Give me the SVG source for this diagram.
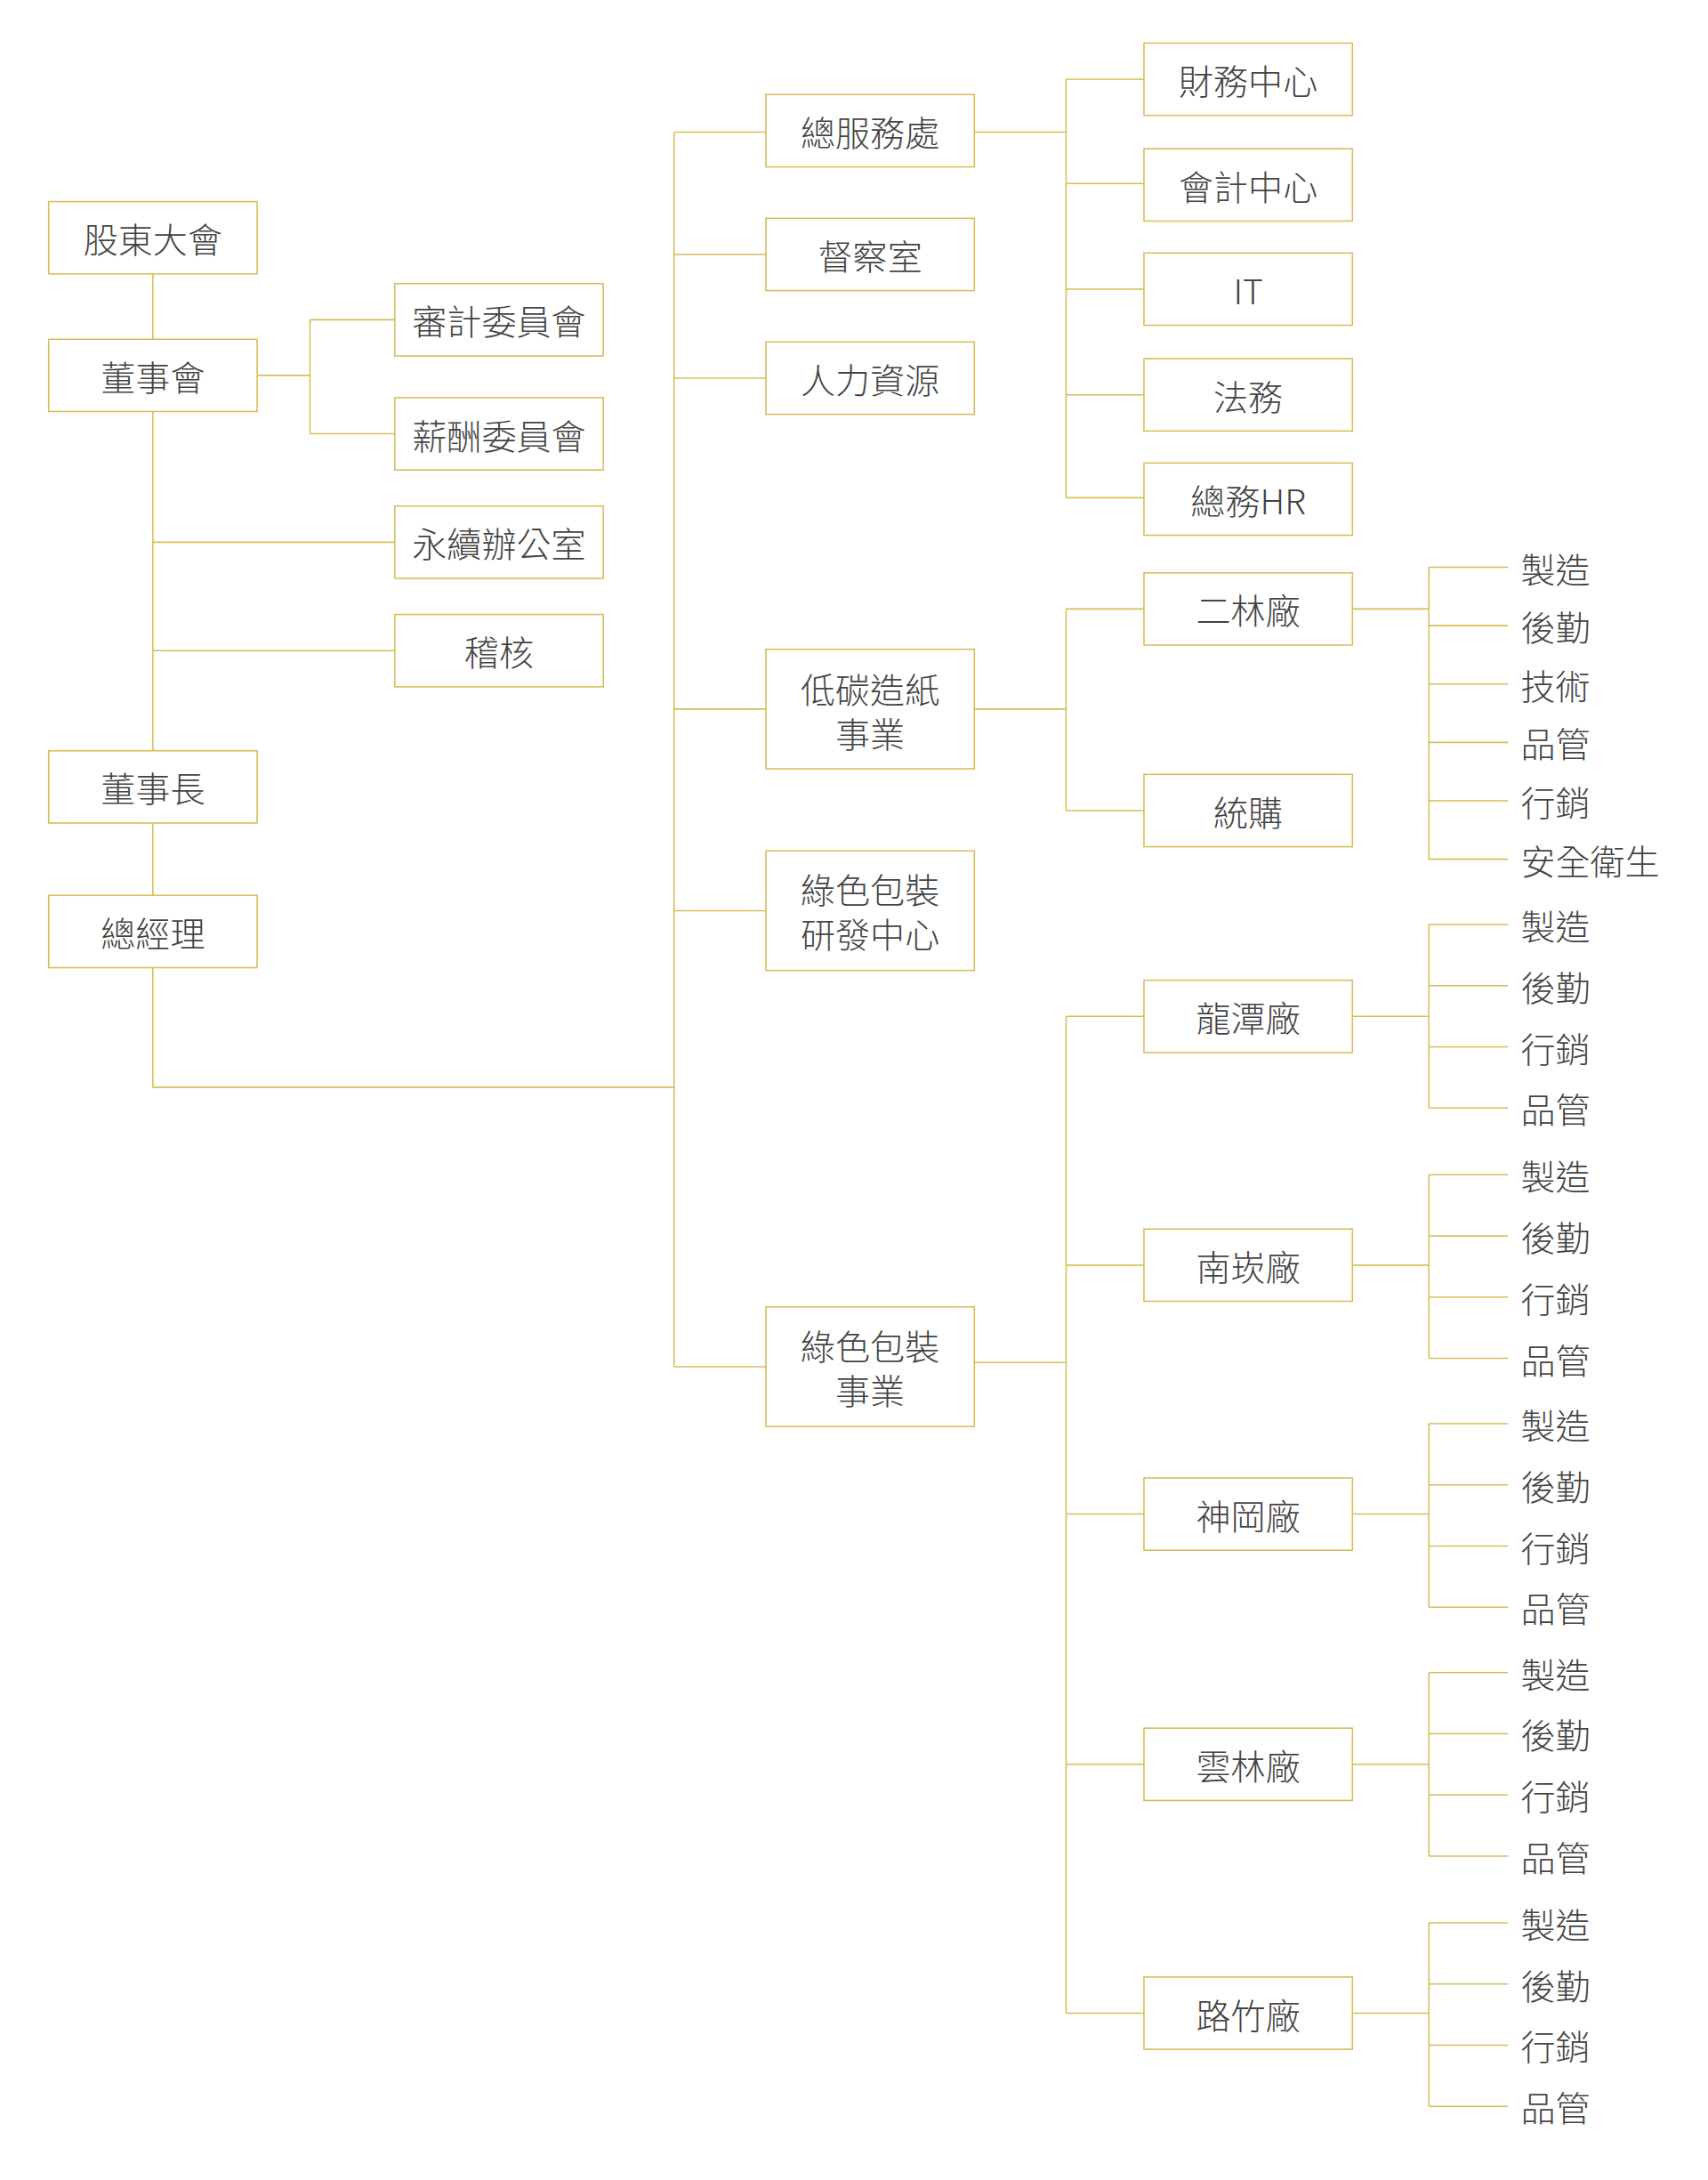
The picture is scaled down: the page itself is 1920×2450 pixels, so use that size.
<svg xmlns="http://www.w3.org/2000/svg" width="1920" height="2450" viewBox="0 0 1920 2450">
<style>
.b rect{fill:#fff;stroke:#d6bd5a;stroke-width:1}
text{font-family:"Noto Sans CJK TC","Noto Sans CJK SC",sans-serif;font-size:25px;fill:#444;text-anchor:middle;dominant-baseline:central;font-weight:300}
.l text{text-anchor:start}
#c path{fill:none;stroke:#d6bd5a;stroke-width:1}
</style>
<rect width="1920" height="2450" fill="#fff"/>
<g transform="scale(1.5625)">
<g id="c">
<path d="M110 197V244M110 296V540M110 592V644M110 696V782H485M110 390H284M110 468H284M185 270H223M223 230V312M223 230H284M223 312H284"/>
<path d="M485 95V983M485 95H551M485 183H551M485 272H551M485 510H551M485 655H551M485 983H551"/>
<path d="M701 95H767M767 57V358M767 57H823M767 132H823M767 208H823M767 284H823M767 358H823"/>
<path d="M701 510H767M767 438V583M767 438H823M767 583H823"/>
<path d="M701 980H767M767 731V1448M767 731H823M767 910H823M767 1089H823M767 1269H823M767 1448H823"/>
<path d="M973 438H1028M1028 408V618M1028 408H1085M1028 450H1085M1028 492H1085M1028 534H1085M1028 576H1085M1028 618H1085"/>
<path d="M973 731H1028M1028 665V797M1028 665H1085M1028 709H1085M1028 753H1085M1028 797H1085"/>
<path d="M973 910H1028M1028 845V977M1028 845H1085M1028 889H1085M1028 933H1085M1028 977H1085"/>
<path d="M973 1089H1028M1028 1024V1156M1028 1024H1085M1028 1068H1085M1028 1112H1085M1028 1156H1085"/>
<path d="M973 1269H1028M1028 1203V1335M1028 1203H1085M1028 1247H1085M1028 1291H1085M1028 1335H1085"/>
<path d="M973 1448H1028M1028 1383V1515M1028 1383H1085M1028 1427H1085M1028 1471H1085M1028 1515H1085"/>
</g>
<g class="b">
<g id="n1"><rect x="35" y="145" width="150" height="52"/><text x="110" y="171">股東大會</text></g>
<g id="n2"><rect x="35" y="244" width="150" height="52"/><text x="110" y="270">董事會</text></g>
<g id="n3"><rect x="35" y="540" width="150" height="52"/><text x="110" y="566">董事長</text></g>
<g id="n4"><rect x="35" y="644" width="150" height="52"/><text x="110" y="670">總經理</text></g>
<g id="n5"><rect x="284" y="204" width="150" height="52"/><text x="359" y="230">審計委員會</text></g>
<g id="n6"><rect x="284" y="286" width="150" height="52"/><text x="359" y="312">薪酬委員會</text></g>
<g id="n7"><rect x="284" y="364" width="150" height="52"/><text x="359" y="390">永續辦公室</text></g>
<g id="n8"><rect x="284" y="442" width="150" height="52"/><text x="359" y="468">稽核</text></g>
<g id="n9"><rect x="551" y="68" width="150" height="52"/><text x="626" y="94">總服務處</text></g>
<g id="n10"><rect x="551" y="157" width="150" height="52"/><text x="626" y="183">督察室</text></g>
<g id="n11"><rect x="551" y="246" width="150" height="52"/><text x="626" y="272">人力資源</text></g>
<g id="n12"><rect x="551" y="467" width="150" height="86"/><text x="626" y="495">低碳造紙</text><text x="626" y="527">事業</text></g>
<g id="n13"><rect x="551" y="612" width="150" height="86"/><text x="626" y="639">綠色包裝</text><text x="626" y="671">研發中心</text></g>
<g id="n14"><rect x="551" y="940" width="150" height="86"/><text x="626" y="967">綠色包裝</text><text x="626" y="999">事業</text></g>
<g id="n15"><rect x="823" y="31" width="150" height="52"/><text x="898" y="57">財務中心</text></g>
<g id="n16"><rect x="823" y="107" width="150" height="52"/><text x="898" y="133">會計中心</text></g>
<g id="n17"><rect x="823" y="182" width="150" height="52"/><text x="898" y="208">IT</text></g>
<g id="n18"><rect x="823" y="258" width="150" height="52"/><text x="898" y="284">法務</text></g>
<g id="n19"><rect x="823" y="333" width="150" height="52"/><text x="898" y="359">總務HR</text></g>
<g id="n20"><rect x="823" y="412" width="150" height="52"/><text x="898" y="438">二林廠</text></g>
<g id="n21"><rect x="823" y="557" width="150" height="52"/><text x="898" y="583">統購</text></g>
<g id="n22"><rect x="823" y="705" width="150" height="52"/><text x="898" y="731">龍潭廠</text></g>
<g id="n23"><rect x="823" y="884" width="150" height="52"/><text x="898" y="910">南崁廠</text></g>
<g id="n24"><rect x="823" y="1063" width="150" height="52"/><text x="898" y="1089">神岡廠</text></g>
<g id="n25"><rect x="823" y="1243" width="150" height="52"/><text x="898" y="1269">雲林廠</text></g>
<g id="n26"><rect x="823" y="1422" width="150" height="52"/><text x="898" y="1448">路竹廠</text></g>
</g>
<g class="l" id="leaves">
<text x="1094" y="408">製造</text><text x="1094" y="450">後勤</text><text x="1094" y="492">技術</text><text x="1094" y="534">品管</text><text x="1094" y="576">行銷</text><text x="1094" y="618">安全衛生</text>
<text x="1094" y="665">製造</text><text x="1094" y="709">後勤</text><text x="1094" y="753">行銷</text><text x="1094" y="797">品管</text>
<text x="1094" y="845">製造</text><text x="1094" y="889">後勤</text><text x="1094" y="933">行銷</text><text x="1094" y="977">品管</text>
<text x="1094" y="1024">製造</text><text x="1094" y="1068">後勤</text><text x="1094" y="1112">行銷</text><text x="1094" y="1156">品管</text>
<text x="1094" y="1203">製造</text><text x="1094" y="1247">後勤</text><text x="1094" y="1291">行銷</text><text x="1094" y="1335">品管</text>
<text x="1094" y="1383">製造</text><text x="1094" y="1427">後勤</text><text x="1094" y="1471">行銷</text><text x="1094" y="1515">品管</text>
</g>
</g>
</svg>
